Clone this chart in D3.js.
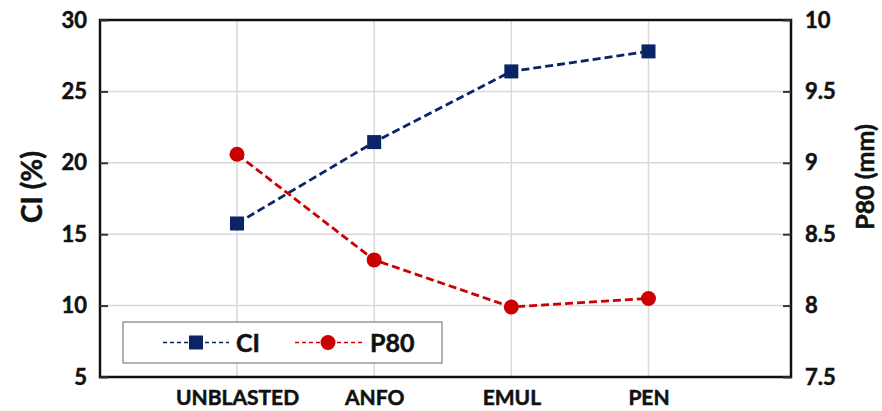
<!DOCTYPE html>
<html>
<head>
<meta charset="utf-8">
<script src="https://cdn.jsdelivr.net/npm/d3@7/dist/d3.min.js"></script>
<style>
  html, body { margin: 0; padding: 0; background: #fff; }
  svg { display: block; font-family: Lato, "Open Sans", sans-serif; font-weight: bold; }
  .lbl { stroke: #111; stroke-width: 0.5px; }
</style>
</head>
<body>
<svg id="chart" width="882" height="411"></svg>
<script>
// Blast types along the x axis
const categories = ["UNBLASTED", "ANFO", "EMUL", "PEN"];
// Crushability index, left axis (%)
const ciValues = [15.75, 21.45, 26.4, 27.8];
// P80 particle size, right axis (mm)
const p80Values = [9.06, 8.32, 7.99, 8.05];
// Tick labels
const leftTicks = [5, 10, 15, 20, 25, 30];
const rightTicks = [7.5, 8, 8.5, 9, 9.5, 10];

const svg = d3.select("#chart");
const frame = { left: 100, right: 791, top: 20, bottom: 377 };
const navy = "#0a2466";
const red = "#cc0000";
const grid = "#d9d9d9";

const x = d3.scalePoint().domain(categories).range([237, 648.5]);
const yL = d3.scaleLinear().domain([5, 30]).range([frame.bottom, frame.top]);
const yR = d3.scaleLinear().domain([7.5, 10]).range([frame.bottom, frame.top]);

// Gridlines
const g = svg.append("g");
g.selectAll("line.h").data(leftTicks.slice(1, -1)).join("line")
  .attr("x1", frame.left).attr("x2", frame.right)
  .attr("y1", d => yL(d)).attr("y2", d => yL(d))
  .attr("stroke", grid).attr("stroke-width", 1.5);
g.selectAll("line.v").data(categories).join("line")
  .attr("x1", d => x(d)).attr("x2", d => x(d))
  .attr("y1", frame.top).attr("y2", frame.bottom)
  .attr("stroke", grid).attr("stroke-width", 1.5);

// Plot frame
svg.append("rect")
  .attr("x", frame.left).attr("y", frame.top)
  .attr("width", frame.right - frame.left).attr("height", frame.bottom - frame.top)
  .attr("fill", "none").attr("stroke", "#111").attr("stroke-width", 2.5);

function styleTicks(sel, size) {
  sel.selectAll(".tick text")
    .attr("class", "lbl")
    .attr("font-size", size).attr("font-weight", "bold").attr("fill", "#111")
    .attr("font-family", "Lato, sans-serif");
}

// Left axis (inward ticks)
const axL = svg.append("g").attr("transform", `translate(${frame.left},0)`)
  .call(d3.axisLeft(yL).tickValues(leftTicks).tickSize(-8).tickPadding(13).tickFormat(d3.format("d")));
axL.select(".domain").remove();
axL.selectAll(".tick line").attr("stroke", "#333").attr("stroke-width", 2);
styleTicks(axL, 22);

// Right axis (inward ticks)
const axR = svg.append("g").attr("transform", `translate(${frame.right},0)`)
  .call(d3.axisRight(yR).tickValues(rightTicks).tickSize(-8).tickPadding(14).tickFormat(d => String(d)));
axR.select(".domain").remove();
axR.selectAll(".tick line").attr("stroke", "#333").attr("stroke-width", 2);
styleTicks(axR, 22);

// Category axis labels
const axB = svg.append("g").attr("transform", `translate(0,${frame.bottom})`)
  .call(d3.axisBottom(x).tickSize(0).tickPadding(13));
axB.select(".domain").remove();
styleTicks(axB, 21);

// Axis titles
svg.append("text").attr("class", "lbl")
  .attr("transform", "translate(42,187) rotate(-90)")
  .attr("text-anchor", "middle").attr("font-size", 28).attr("fill", "#111")
  .text("CI (%)");
svg.append("text").attr("class", "lbl")
  .attr("transform", "translate(874,177) rotate(-90)")
  .attr("text-anchor", "middle").attr("font-size", 25).attr("fill", "#111")
  .text("P80 (mm)");

// Series lines
const lineL = d3.line().x((d, i) => x(categories[i])).y(d => yL(d));
const lineR = d3.line().x((d, i) => x(categories[i])).y(d => yR(d));

svg.append("path").datum(ciValues).attr("d", lineL)
  .attr("fill", "none").attr("stroke", navy).attr("stroke-width", 2.8).attr("stroke-dasharray", "8,4");
svg.append("path").datum(p80Values).attr("d", lineR)
  .attr("fill", "none").attr("stroke", red).attr("stroke-width", 2.8).attr("stroke-dasharray", "8,4");

// Markers
const sq = 14;
svg.selectAll("rect.ci").data(ciValues).join("rect")
  .attr("x", (d, i) => x(categories[i]) - sq / 2).attr("y", d => yL(d) - sq / 2)
  .attr("width", sq).attr("height", sq).attr("fill", navy);
svg.selectAll("circle.p80").data(p80Values).join("circle")
  .attr("cx", (d, i) => x(categories[i])).attr("cy", d => yR(d))
  .attr("r", 7.5).attr("fill", red);

// Legend
const lg = svg.append("g");
lg.append("rect").attr("x", 123).attr("y", 322).attr("width", 319).attr("height", 41)
  .attr("fill", "#fff").attr("stroke", "#666").attr("stroke-width", 1);
const ly = 342.5;
lg.append("line").attr("x1", 163).attr("x2", 229).attr("y1", ly).attr("y2", ly)
  .attr("stroke", navy).attr("stroke-width", 1.5).attr("stroke-dasharray", "4,3");
lg.append("rect").attr("x", 196 - 7).attr("y", ly - 7).attr("width", 14).attr("height", 14).attr("fill", navy);
lg.append("text").attr("class", "lbl").attr("x", 236).attr("y", ly + 9).attr("font-size", 25).attr("fill", "#111").text("CI");
lg.append("line").attr("x1", 295).attr("x2", 363).attr("y1", ly).attr("y2", ly)
  .attr("stroke", red).attr("stroke-width", 1.5).attr("stroke-dasharray", "4,3");
lg.append("circle").attr("cx", 328).attr("cy", ly).attr("r", 7.5).attr("fill", red);
lg.append("text").attr("class", "lbl").attr("x", 370).attr("y", ly + 9).attr("font-size", 25).attr("fill", "#111").text("P80");
</script>
</body>
</html>
